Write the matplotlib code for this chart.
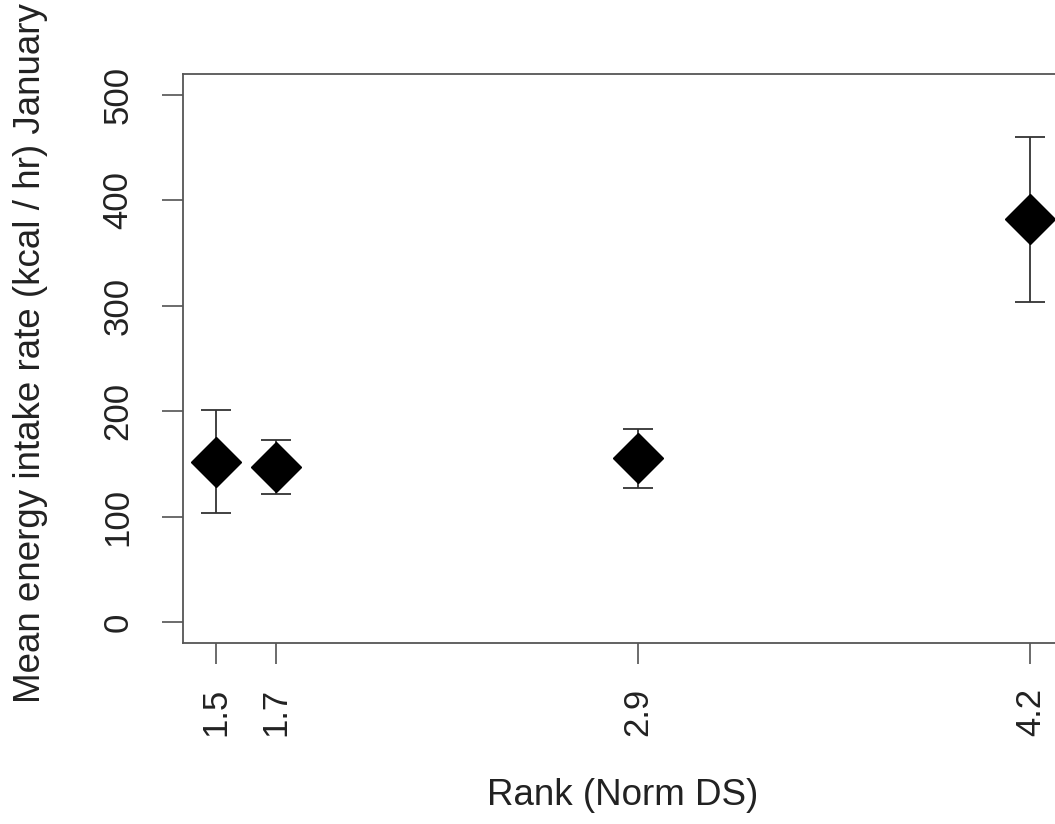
import matplotlib
matplotlib.use('Agg')
import matplotlib.pyplot as plt

# values
rank = [1.5, 1.7, 2.9, 4.2]
mean_rate = [152, 147, 156, 382]
lower = [103, 121, 127, 304]
upper = [201, 173, 183, 460]

plt.rcParams['font.family'] = ['Liberation Sans', 'DejaVu Sans']

fig = plt.figure(figsize=(10.55, 8.24), dpi=100)
ax = fig.add_axes([183 / 1055, 181 / 824, 880 / 1055, 569 / 824])

yerr = [[m - lo for m, lo in zip(mean_rate, lower)],
        [hi - m for m, hi in zip(mean_rate, upper)]]
ax.errorbar(rank, mean_rate, yerr=yerr, fmt='none', ecolor='#333333',
            elinewidth=1.3, capsize=11, capthick=1.3, zorder=2)
ax.plot(rank, mean_rate, 'D', color='black', markersize=25, zorder=3)

ax.set_xlim(1.392, 4.308)
ax.set_ylim(-20, 520)
ax.set_xticks(rank)
ax.set_xticklabels([str(r) for r in rank], rotation=90, va='top')
ax.set_yticks([0, 100, 200, 300, 400, 500])
ax.set_yticklabels(['0', '100', '200', '300', '400', '500'], rotation=90, va='center')

for s in ax.spines.values():
    s.set_color('#555555')
    s.set_linewidth(1.3)

ax.tick_params(axis='both', direction='out', length=15, width=1.1,
               color='#444444', labelsize=25, labelcolor='#222222')
ax.tick_params(axis='y', pad=20)
ax.tick_params(axis='x', pad=17)

ax.set_xlabel('Rank (Norm DS)', fontsize=26.5, color='#222222')
ax.set_ylabel('Mean energy intake rate (kcal / hr) January', fontsize=26.5,
              color='#222222')
ax.xaxis.set_label_coords(0.5, -0.238)
ax.yaxis.set_label_coords(-0.153, 0.51)

fig.savefig('out.png', dpi=100)
